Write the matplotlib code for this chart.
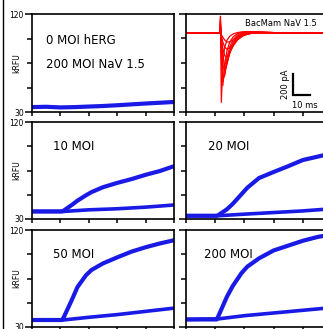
import numpy as np
import matplotlib.pyplot as plt
from matplotlib.lines import Line2D

# fluorescence time course (arbitrary time units 0-5), kRFU
t_flat = [0, 0.5, 1.0, 1.5, 2.0, 2.5, 3.0, 3.5, 4.0, 4.5, 5.0]
ctrl = [34.5, 34.8, 34.2, 34.5, 35.0, 35.5, 36.2, 37.0, 37.8, 38.5, 39.2]

t_rise = [0, 0.5, 1.05, 1.1, 1.4, 1.6, 1.9, 2.1, 2.5, 3.0, 3.5, 4.0, 4.5, 5.0]
t_low = [0, 1.1, 2.0, 3.0, 4.0, 5.0]

moi10_hi = [37, 37, 37, 37.5, 43, 47, 52, 55, 59.5, 63.5, 67, 71, 74.5, 79]
moi10_lo = [37, 37, 38.5, 39.5, 41, 43]
moi20_hi = [33, 33, 33, 33.5, 39, 44, 53, 59, 68, 73.6, 79, 84.7, 87.8, 91]
moi20_lo = [33, 33, 34.5, 36, 37.5, 39.5]
moi50_hi = [36.5, 36.5, 36.5, 38, 55, 67, 78, 83, 89, 94.6, 99.9, 104, 107.5, 110.5]
moi50_lo = [36.5, 36.5, 39, 41.5, 44.5, 47.5]
moi200_hi = [37, 37, 37, 39.6, 58, 68, 80, 86, 93.7, 101, 105.5, 110, 113.5, 116]
moi200_lo = [37, 37.5, 40.5, 43, 45.5, 48]

# patch-clamp current family (ms, pA)
t_ms = [0, 20.0, 20.3, 20.8, 21.7, 22.7, 24.1, 25.8, 27.9, 30.4, 33.9, 38.2, 45.1, 55.4, 86]
currents = [
    [0, 0, 160, -660, -300, -140, -70, -30, -8, 5, 12, 14, 8, 2, 0],
    [0, 0, 130, -250, -500, -310, -170, -85, -35, -5, 10, 12, 8, 2, 0],
    [0, 0, 110, -180, -460, -400, -240, -130, -60, -18, 4, 10, 7, 2, 0],
    [0, 0, 95, -130, -390, -410, -290, -170, -85, -30, 0, 7, 6, 1, 0],
    [0, 0, 80, -95, -300, -360, -300, -190, -100, -40, -6, 5, 5, 1, 0],
    [0, 0, 70, -70, -215, -300, -275, -190, -115, -55, -12, 2, 3, 1, 0],
    [0, 0, 60, -45, -145, -215, -230, -180, -120, -65, -22, 0, 2, 1, 0],
    [0, 0, 45, -30, -85, -130, -155, -140, -100, -60, -25, -4, 1, 0, 0],
    [0, 0, 35, -18, -40, -65, -85, -85, -65, -42, -18, -4, 0, 0, 0],
]

BLUE = '#1a1ae6'
W, H = 323, 329
fig = plt.figure(figsize=(W / 100, H / 100), dpi=100)


def add_ax(x0, y_top, w, h):
    return fig.add_axes([x0 / W, (H - y_top - h) / H, w / W, h / H])


def style(ax, left_col, ylim):
    for s in ax.spines.values():
        s.set_linewidth(1.2)
    lo, hi = ylim
    ax.set_ylim(lo, hi)
    ax.set_yticks([lo, hi])
    ax.set_yticks(np.linspace(lo, hi, 5)[1:-1], minor=True)
    if left_col:
        ax.set_yticklabels(['30', '120'])
        ax.set_ylabel('kRFU', fontsize=5.5)
        ax.yaxis.set_label_coords(-0.077, 0.5)
    else:
        ax.set_yticklabels([])
    ax.tick_params(axis='y', which='major', direction='out', length=5, width=1.1,
                   labelsize=5.5, pad=1)
    ax.tick_params(axis='y', which='minor', direction='out', length=3.5, width=1.1)
    ax.tick_params(axis='x', direction='out', length=3, width=1.1, labelbottom=False)


xl, wl = 32, 142
xr, wr = 186, 146
rows = [(14, 98), (122, 97), (230, 97)]

# top-left: controls
ax = add_ax(xl, rows[0][0], wl, rows[0][1])
ax.plot(t_flat, ctrl, color=BLUE, lw=3)
ax.set_xlim(0, 5)
ax.set_xticks(range(6))
style(ax, True, (30, 120))
ax.text(0.1, 0.73, '0 MOI hERG', transform=ax.transAxes, fontsize=8.5, va='center')
ax.text(0.1, 0.48, '200 MOI NaV 1.5', transform=ax.transAxes, fontsize=8.5, va='center')

# top-right: current traces
ax = add_ax(xr, rows[0][0], wr, rows[0][1])
for trace in currents:
    ax.plot(t_ms, trace, color='red', lw=0.9)
ax.set_xlim(0, 86)
ax.set_xticks(np.linspace(0, 86, 6))
style(ax, False, (-752, 181))
ax.plot([62.8, 62.8, 72.8], [-390, -590, -590], color='black', lw=1.6,
        solid_joinstyle='miter')
ax.text(58.5, -490, '200 pA', rotation=90, fontsize=6, ha='center', va='center')
ax.text(70, -650, '10 ms', fontsize=6, ha='center', va='top')
ax.text(0.405, 0.905, 'BacMam NaV 1.5', transform=ax.transAxes, fontsize=6, va='center')

panels = [
    (xl, wl, rows[1], moi10_hi, moi10_lo, '10 MOI', 0.15, True),
    (xr, wr, rows[1], moi20_hi, moi20_lo, '20 MOI', 0.15, False),
    (xl, wl, rows[2], moi50_hi, moi50_lo, '50 MOI', 0.15, True),
    (xr, wr, rows[2], moi200_hi, moi200_lo, '200 MOI', 0.125, False),
]
for x0, w, (yt, h), hi, lo, label, tx, left in panels:
    ax = add_ax(x0, yt, w, h)
    ax.plot(t_rise, hi, color=BLUE, lw=3)
    ax.plot(t_low, lo, color=BLUE, lw=2.6)
    ax.set_xlim(0, 5)
    ax.set_xticks(range(6))
    style(ax, left, (30, 120))
    ax.text(tx, 0.75, label, transform=ax.transAxes, fontsize=8.5, va='center')

fig.add_artist(Line2D([2.5 / W, 2.5 / W], [0, 1], color='black', lw=1))

fig.savefig('out.png', dpi=100)
